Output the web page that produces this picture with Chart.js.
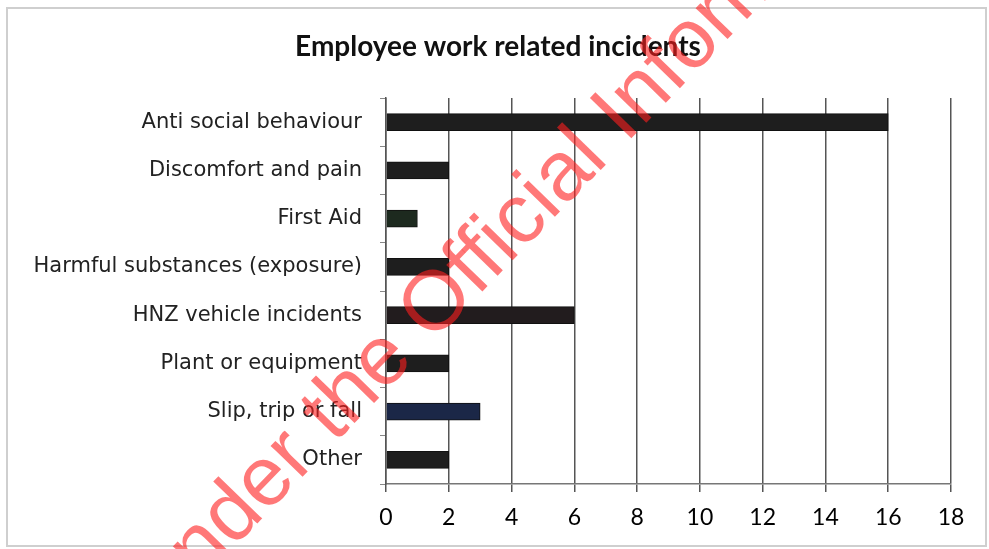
<!DOCTYPE html>
<html lang="en">

<head>
    <meta charset="UTF-8">
    <title>Employee work related incidents</title>
    <script src="https://cdn.jsdelivr.net/npm/chart.js"></script>
    <style>
        html, body { margin: 0; padding: 0; background: #fff; }
        #wrap { width: 989px; height: 549px; position: relative; }
    </style>
</head>

<body>
    <div id="wrap">
        <canvas id="incidentChart"></canvas>
    </div>
    <script>
        // Data
        const chartTitle = 'Employee work related incidents';
        const categories = [
            'Anti social behaviour',
            'Discomfort and pain',
            'First Aid',
            'Harmful substances (exposure)',
            'HNZ vehicle incidents',
            'Plant or equipment',
            'Slip, trip or fall',
            'Other'
        ];
        const incidentCounts = [16, 2, 1, 2, 6, 2, 3, 2];
        const barColours = ['#1e1e1e', '#1e1e1e', '#1d2a1f', '#1e1e1e', '#221c1e', '#1e1e1e', '#1b2747', '#1e1e1e'];
        const xTicks = [0, 2, 4, 6, 8, 10, 12, 14, 16, 18];
        const watermark = 'Released under the Official Information Act';

        // frame, title (centred on the picture, not the plot) and red watermark
        const framePlugin = {
            id: 'frame',
            beforeDraw(chart) {
                const ctx = chart.ctx;
                ctx.save();
                ctx.strokeStyle = '#cfcfcf';
                ctx.lineWidth = 2;
                ctx.strokeRect(7, 8, 979, 538);
                ctx.fillStyle = '#111';
                ctx.font = 'bold 28px Lato, "Open Sans", sans-serif';
                ctx.textAlign = 'center';
                ctx.textBaseline = 'middle';
                ctx.fillText(chartTitle, 498, 47);
                ctx.restore();
            },
            afterDraw(chart) {
                const ctx = chart.ctx;
                ctx.save();
                ctx.font = '84px "Liberation Sans", Arial, sans-serif';
                ctx.fillStyle = 'rgba(255, 30, 30, 0.6)';
                ctx.textBaseline = 'middle';
                ctx.translate(438, 304);
                ctx.rotate(-0.8);
                const pre = ctx.measureText('Released under the ').width;
                const oW = ctx.measureText('O').width;
                ctx.fillText(watermark, -pre - oW / 2, 0);
                ctx.restore();
            }
        };

        const ctx = document.getElementById('incidentChart').getContext('2d');
        new Chart(ctx, {
            type: 'bar',
            data: {
                labels: categories,
                datasets: [{
                    label: 'Incidents',
                    data: incidentCounts,
                    backgroundColor: barColours,
                    borderColor: '#111',
                    borderWidth: 1,
                    barThickness: 17
                }]
            },
            options: {
                indexAxis: 'y',
                responsive: true,
                maintainAspectRatio: false,
                animation: false,
                layout: { padding: { left: 0, right: 38, top: 98, bottom: 0 } },
                plugins: {
                    legend: { display: false },
                    tooltip: { enabled: false },
                    title: { display: false }
                },
                scales: {
                    x: {
                        min: 0,
                        max: 18,
                        afterBuildTicks(axis) {
                            axis.ticks = xTicks.map(v => ({ value: v }));
                        },
                        afterFit(axis) { axis.height = 65; },
                        grid: {
                            color: '#555',
                            lineWidth: 1.5,
                            tickLength: 8,
                            drawTicks: true
                        },
                        border: { color: '#777', width: 1.5 },
                        ticks: {
                            color: '#000',
                            padding: 12,
                            font: { family: 'Lato, sans-serif', size: 23 }
                        }
                    },
                    y: {
                        afterFit(axis) { axis.width = 386; },
                        grid: {
                            offset: true,
                            drawOnChartArea: false,
                            color: '#888',
                            tickLength: 6
                        },
                        border: { color: '#555', width: 1.5 },
                        ticks: {
                            color: '#222',
                            padding: 18,
                            font: { family: '"DejaVu Sans", sans-serif', size: 21 }
                        }
                    }
                }
            },
            plugins: [framePlugin]
        });
    </script>
</body>

</html>
